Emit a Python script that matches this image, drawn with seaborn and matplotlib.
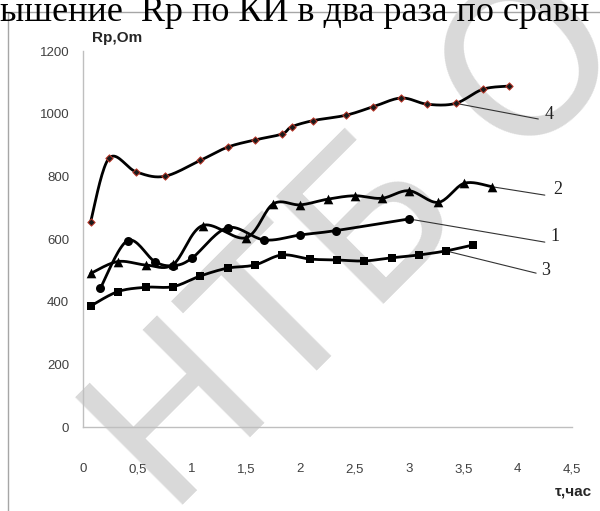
import numpy as np
import pandas as pd
import matplotlib
matplotlib.use("Agg")
import matplotlib.pyplot as plt
import seaborn as sns
from matplotlib.patches import Rectangle

# ---------------- data ----------------
t1 = [0.16, 0.41, 0.66, 0.83, 1.00, 1.33, 1.67, 2.00, 2.33, 3.00]
r1 = [443, 595, 528, 515, 538, 636, 597, 613, 627, 664]

t2 = [0.07, 0.32, 0.58, 0.83, 1.10, 1.50, 1.75, 2.00, 2.25, 2.50, 2.75, 3.00, 3.27, 3.51, 3.76]
r2 = [490, 528, 517, 519, 643, 604, 712, 709, 727, 738, 730, 754, 717, 778, 767]

t3 = [0.07, 0.32, 0.58, 0.83, 1.08, 1.33, 1.58, 1.83, 2.09, 2.34, 2.59, 2.84, 3.09, 3.34, 3.59]
r3 = [386, 432, 446, 448, 482, 507, 517, 549, 536, 533, 530, 540, 549, 562, 581]

t4 = [0.07, 0.24, 0.49, 0.75, 1.08, 1.33, 1.58, 1.83, 1.92, 2.12, 2.42, 2.67, 2.93, 3.17, 3.43, 3.68, 3.92]
r4 = [655, 858, 814, 800, 851, 893, 916, 935, 958, 978, 995, 1022, 1050, 1030, 1033, 1078, 1088]

curve_names = ["1", "2", "3", "4"]
label_pos_t = [4.34, 4.37, 4.26, 4.29]
label_pos_r = [609, 757, 501, 996]
leader_start_idx = [9, 14, 13, 14]
leader_end_t = [4.25, 4.25, 4.17, 4.19]
leader_end_r = [590, 740, 491, 983]

x_ticks = [0, 0.5, 1, 1.5, 2, 2.5, 3, 3.5, 4, 4.5]
x_tick_labels = ["0", "0,5", "1", "1,5", "2", "2,5", "3", "3,5", "4", "4,5"]
y_ticks = [0, 200, 400, 600, 800, 1000, 1200]

series = [(t1, r1), (t2, r2), (t3, r3), (t4, r4)]


def smooth(xs, ys, n=20):
    """Excel-like smoothed line: cubic Bezier with Catmull-Rom control points."""
    P = np.column_stack([xs, ys]).astype(float)
    out = [P[0]]
    m = len(P)
    for i in range(m - 1):
        p0 = P[i - 1] if i > 0 else P[i]
        p1 = P[i]
        p2 = P[i + 1]
        p3 = P[i + 2] if i + 2 < m else P[i + 1]
        c1 = p1 + (p2 - p0) / 6.0
        c2 = p2 - (p3 - p1) / 6.0
        s = np.linspace(0, 1, n)[1:, None]
        seg = ((1 - s) ** 3) * p1 + 3 * ((1 - s) ** 2) * s * c1 + 3 * (1 - s) * s ** 2 * c2 + s ** 3 * p2
        out.extend(seg)
    out = np.array(out)
    return out[:, 0], out[:, 1]


sns.set_theme(style="white")
plt.rcParams["font.family"] = ["Liberation Sans Narrow", "Liberation Sans", "DejaVu Sans"]

fig = plt.figure(figsize=(6.0, 5.11), dpi=100)

# background layer: watermark
bg = fig.add_axes([0, 0, 1, 1])
bg.set_axis_off()
bg.set_zorder(0)
bg.text(0.60, 0.52, "НТБ О", rotation=45, fontsize=150, color="#d9d9d9",
        ha="center", va="center", family=["DejaVu Sans"], transform=bg.transAxes)
bg.add_patch(Rectangle((8 / 600, -0.01), 1.0, 1 - 12 / 511 + 0.01, transform=bg.transAxes,
                       fill=False, edgecolor="#a6a6a6", linewidth=1.0))
bg.set_xlim(0, 1)
bg.set_ylim(0, 1)

ax = fig.add_axes([83 / 600, 1 - 427 / 511, (572 - 83) / 600, (427 - 51) / 511])
ax.set_zorder(2)
ax.set_facecolor("none")

# clipped text line of the surrounding document
fig.text(0.0, 1 - 21 / 511, "ышение  Rр по КИ в два раза по сравн",
         fontsize=26, family=["Liberation Serif"], color="black", ha="left", va="baseline")

# lines
for (tx, ry) in series:
    sx, sy = smooth(tx, ry)
    df = pd.DataFrame({"t": sx, "R": sy})
    sns.lineplot(data=df, x="t", y="R", sort=False, estimator=None, ax=ax,
                 color="black", linewidth=2.0, zorder=3)

# markers
mk = dict(color="black", linewidth=0, zorder=4, ax=ax, legend=False)
sns.scatterplot(x=t1, y=r1, marker="o", s=42, **mk)
sns.scatterplot(x=t2, y=r2, marker="^", s=48, **mk)
sns.scatterplot(x=t3, y=r3, marker="s", s=40, **mk)
sns.scatterplot(x=t4, y=r4, marker="D", s=14, ax=ax, legend=False, color="#1a1a1a",
                edgecolor="#c0392b", linewidth=0.7, zorder=4)

# leader lines and curve numbers
for k, (tx, ry) in enumerate(series):
    i = leader_start_idx[k]
    ax.plot([tx[i], leader_end_t[k]], [ry[i], leader_end_r[k]], color="#333333",
            linewidth=0.8, zorder=2)
    ax.text(label_pos_t[k], label_pos_r[k], curve_names[k], fontsize=13,
            family=["Liberation Serif"], ha="center", va="center", color="#222222")

ax.set_xlim(0, 4.5)
ax.set_ylim(0, 1200)
ax.set_xticks(x_ticks)
ax.set_xticklabels(x_tick_labels)
ax.set_yticks(y_ticks)
ax.set_xlabel("")
ax.set_ylabel("")
for side in ["top", "right"]:
    ax.spines[side].set_visible(False)
for side in ["left", "bottom"]:
    ax.spines[side].set_color("#bfbfbf")
    ax.spines[side].set_linewidth(1.0)
ax.tick_params(axis="y", direction="out", length=4, width=1, color="#bfbfbf",
               labelsize=9.5, labelcolor="#404040", pad=6)
ax.tick_params(axis="x", direction="inout", length=8, width=1, color="#bfbfbf",
               labelsize=9.5, labelcolor="#404040", pad=22)

fig.text(92 / 600, 1 - 38 / 511, "Rp,Om", fontsize=11, fontweight="bold",
         color="#262626", ha="left", va="center")
fig.text(592 / 600, 1 - 491 / 511, "τ,час", fontsize=11, fontweight="bold",
         color="#262626", ha="right", va="center")

fig.savefig("out.png", dpi=100)
